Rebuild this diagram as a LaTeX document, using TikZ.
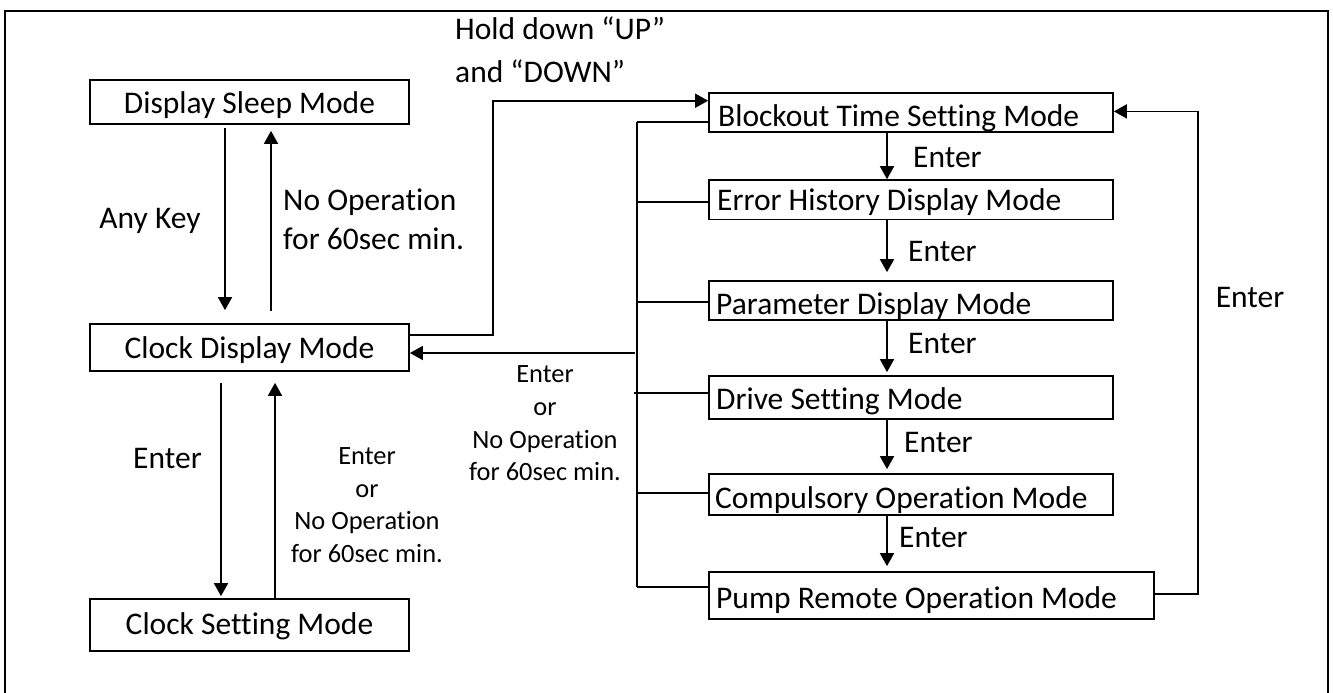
\documentclass[tikz,border=0pt]{standalone}
\usepackage{fontspec}
\setmainfont{Carlito}[Ligatures={NoCommon}]
\usetikzlibrary{arrows.meta}
\begin{document}
\begin{tikzpicture}[x=1pt,y=-1pt,
  box/.style={draw,line width=1.7pt,inner sep=0pt},
  arr/.style={line width=1.7pt,-{Triangle[length=13pt,width=14pt]}},
  ln/.style={line width=1.7pt},
  big/.style={font=\fontsize{31.5}{38.4}\selectfont,inner sep=0pt},
  small/.style={font=\fontsize{26.4}{32.2}\selectfont,inner sep=0pt}]
\useasboundingbox (0,0) rectangle (1333,693);
\draw[line width=2.4pt] (5,11) rectangle (1328,712);

% left column boxes
\node[box,minimum width=319pt,minimum height=44pt] (ds) at (249.5,102) {};
\node[big,anchor=base] (dst) at (249.5,113) {Display Sleep Mode};
\node[box,minimum width=319pt,minimum height=47pt] (cd) at (249.5,347.5) {};
\node[big,anchor=base] (cdt) at (249.5,358) {Clock Display Mode};
\node[box,minimum width=319pt,minimum height=52pt] (cs) at (249.5,625) {};
\node[big,anchor=base] (cst) at (249.5,634) {Clock Setting Mode};

% right column boxes
\node[box,minimum width=404pt,minimum height=39.6pt] (b1) at (911,112.5) {};
\node[box,minimum width=404pt,minimum height=39.3pt] (b2) at (911,199.7) {};
\node[box,minimum width=404pt,minimum height=39pt] (b3) at (911,300.5) {};
\node[box,minimum width=404pt,minimum height=43pt] (b4) at (911,397.5) {};
\node[box,minimum width=404pt,minimum height=41pt] (b5) at (911,494.5) {};
\node[box,minimum width=445pt,minimum height=47pt] (b6) at (931.5,595.5) {};

\begin{scope}\clip (b1.south west) rectangle (b1.north east);
\node[big,anchor=base west] (b1t) at (718,126.7) {Blockout Time Setting Mode};\end{scope}
\begin{scope}\clip (b2.south west) rectangle (b2.north east);
\node[big,anchor=base west] (b2t) at (717,210) {Error History Display Mode};\end{scope}
\begin{scope}\clip (b3.south west) rectangle (b3.north east);
\node[big,anchor=base west] (b3t) at (716,314) {Parameter Display Mode};\end{scope}
\begin{scope}\clip (b4.south west) rectangle (b4.north east);
\node[big,anchor=base west] (b4t) at (716,409) {Drive Setting Mode};\end{scope}
\begin{scope}\clip (b5.south west) rectangle (b5.north east);
\node[big,anchor=base west] (b5t) at (715,508) {Compulsory Operation Mode};\end{scope}
\begin{scope}\clip (b6.south west) rectangle (b6.north east);
\node[big,anchor=base west] (b6t) at (716,608) {Pump Remote Operation Mode};\end{scope}

% left arrows
\coordinate (xa) at (225,0);
\coordinate (xb) at (271,0);
\coordinate (xc) at (221,0);
\coordinate (xd) at (275,0);
\draw[arr,shorten <=3pt,shorten >=13pt] (ds.south -| xa) -- (cd.north -| xa);
\draw[arr,shorten <=12pt,shorten >=6pt] (cd.north -| xb) -- (ds.south -| xb);
\draw[arr,shorten <=11pt,shorten >=2pt] (cd.south -| xc) -- (cs.north -| xc);
\draw[arr,shorten >=11pt] (cs.north -| xd) -- (cd.south -| xd);

% labels left
\node[big,anchor=base] (lak) at (150,228) {Any Key};
\node[big,anchor=base west] (lno1) at (283,210) {No Operation};
\node[big,anchor=base west] (lno2) at (283,249) {for 60sec min.};
\node[big,anchor=base] (len) at (167.5,468) {Enter};
\node[small,anchor=base] (lr1) at (367,464) {Enter};
\node[small,anchor=base] (lr2) at (367,497) {or};
\node[small,anchor=base] (lr3) at (367,529) {No Operation};
\node[small,anchor=base] (lr4) at (367,562) {for 60sec min.};

% hold down arrow
\node[big,anchor=base west] (h1) at (455,39.3) {Hold down “UP”};
\node[big,anchor=base west] (h2) at (455,82) {and “DOWN”};
\draw[arr] (cd.east |- 0,335) -- (493,335) |- (b1.west |- 0,100.7);

% bus
\coordinate (bt) at (637,121.7);
\coordinate (bb) at (637,587);
\draw[ln] (bt) -- (bb);
\draw[ln] (bt) -- (b1.west |- bt);
\draw[ln] (637,202) -- (b2.west |- 0,202);
\draw[ln] (637,301.7) -- (b3.west |- 0,301.7);
\draw[ln] (634,393) -- (b4.west |- 0,393);
\draw[ln] (637,493) -- (b5.west |- 0,493);
\draw[ln] (bb) -- (b6.west |- bb);
\draw[arr] (635,353) -- (cd.east |- 0,353);
\node[small,anchor=base] (m1) at (545,382) {Enter};
\node[small,anchor=base] (m2) at (545,415) {or};
\node[small,anchor=base] (m3) at (545,448) {No Operation};
\node[small,anchor=base] (m4) at (545,480) {for 60sec min.};

% chain arrows
\coordinate (tx) at (887,0);
\draw[arr] (b1.south -| tx) -- (b2.north -| tx);
\draw[arr,shorten >=8pt] (b2.south -| tx) -- (b3.north -| tx);
\draw[arr,shorten >=3pt] (b3.south -| tx) -- (b4.north -| tx);
\draw[arr,shorten >=4pt] (b4.south -| tx) -- (b5.north -| tx);
\draw[arr,shorten >=5pt] (b5.south -| tx) -- (b6.north -| tx);
\node[big,anchor=base west] (e1) at (913,167) {Enter};
\node[big,anchor=base west] (e2) at (908,261) {Enter};
\node[big,anchor=base west] (e3) at (908,353) {Enter};
\node[big,anchor=base west] (e4) at (904,452) {Enter};
\node[big,anchor=base west] (e5) at (899,547) {Enter};

% loop back
\draw[arr] (b6.east |- 0,594) -- (1198,594) |- (b1.east |- 0,111.4);
\node[big,anchor=base] (er) at (1250,307) {Enter};
\end{tikzpicture}
\end{document}
